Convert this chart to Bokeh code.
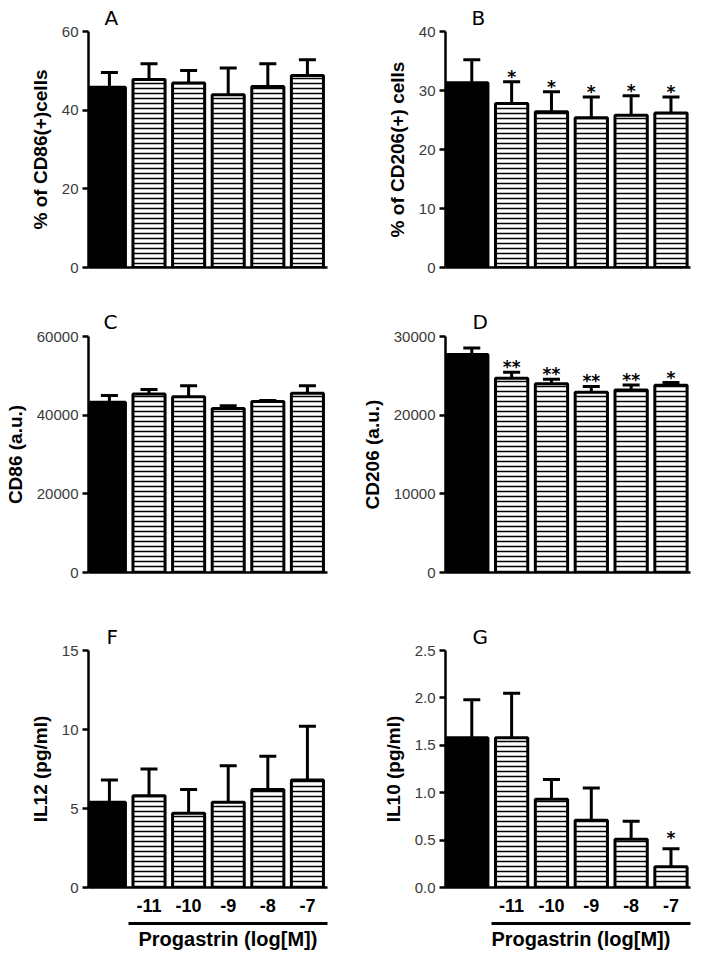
from bokeh.plotting import figure
from bokeh.models import (Range1d, FixedTicker, LinearAxis, Whisker, TeeHead,
                          ColumnDataSource, Title, NumeralTickFormatter)
from bokeh.layouts import row, column
from bokeh.embed import file_html
from bokeh.resources import INLINE
from bokeh.core.properties import value

# ---------------- data ----------------
conc_labels = ["", "-11", "-10", "-9", "-8", "-7"]
positions = [0, 1, 2, 3, 4, 5]

cd86_pct_mean = [45.8, 47.8, 46.9, 43.9, 46.0, 48.8]
cd86_pct_sem = [3.8, 4.0, 3.2, 6.8, 5.8, 4.0]
cd86_pct_sig = ["", "", "", "", "", ""]
cd86_pct_ticks = [0, 20, 40, 60]

cd206_pct_mean = [31.3, 27.8, 26.4, 25.4, 25.8, 26.2]
cd206_pct_sem = [3.9, 3.7, 3.4, 3.5, 3.3, 2.7]
cd206_pct_sig = ["", "*", "*", "*", "*", "*"]
cd206_pct_ticks = [0, 10, 20, 30, 40]

cd86_mfi_mean = [43300, 45400, 44700, 41700, 43500, 45600]
cd86_mfi_sem = [1700, 1100, 2800, 700, 200, 1900]
cd86_mfi_sig = ["", "", "", "", "", ""]
cd86_mfi_ticks = [0, 20000, 40000, 60000]

cd206_mfi_mean = [27700, 24700, 24000, 22900, 23200, 23800]
cd206_mfi_sem = [850, 750, 550, 750, 650, 350]
cd206_mfi_sig = ["", "**", "**", "**", "**", "*"]
cd206_mfi_ticks = [0, 10000, 20000, 30000]

il12_mean = [5.4, 5.8, 4.7, 5.4, 6.2, 6.8]
il12_sem = [1.4, 1.7, 1.5, 2.3, 2.1, 3.4]
il12_sig = ["", "", "", "", "", ""]
il12_ticks = [0, 5, 10, 15]

il10_mean = [1.58, 1.58, 0.93, 0.71, 0.51, 0.22]
il10_sem = [0.40, 0.47, 0.21, 0.34, 0.19, 0.19]
il10_sig = ["", "", "", "", "", "*"]
il10_ticks = [0.0, 0.5, 1.0, 1.5, 2.0, 2.5]

x_title = "Progastrin (log[M])"

BAR_W = 0.81
PAGE = 8  # page margin emulated inside the layout


def panel(letter, ylabel, mean, sem, sig, ticks, fmt, side, bottom_row,
          top_b, frame_h, bot_b, letter_off, letter_standoff, star_dy, title_off=50):
    if side == "left":
        xr = Range1d(-0.528, 5.507)
        fw, mbl, mbr = 239, 80 + PAGE, 23
    else:
        xr = Range1d(-0.66, 5.49)
        fw, mbl, mbr = 245, 95, 3
    ymax = ticks[-1]
    p = figure(x_range=xr, y_range=Range1d(ticks[0], ymax),
               frame_width=fw, frame_height=frame_h,
               min_border_left=mbl, min_border_right=mbr,
               min_border_top=top_b, min_border_bottom=bot_b,
               output_backend="svg", toolbar_location=None, tools="")
    p.xgrid.visible = False
    p.ygrid.visible = False
    p.outline_line_color = None

    # panel letter
    p.title.text = letter
    p.title.align = "left"
    p.title.offset = letter_off
    p.title.standoff = letter_standoff
    p.title.text_font = "DejaVu Sans"
    p.title.text_font_size = "20px"
    p.title.text_font_style = "normal"
    p.title.text_color = "black"

    # y axis
    yax = p.yaxis[0]
    yax.ticker = FixedTicker(ticks=ticks)
    if fmt:
        yax.formatter = NumeralTickFormatter(format=fmt)
    yax.axis_label = ylabel
    yax.axis_label_text_font = "Liberation Sans"
    yax.axis_label_text_font_size = "19px"
    yax.axis_label_text_font_style = "bold"
    yax.axis_label_text_color = "black"
    yax.axis_label_standoff = 8
    yax.major_label_text_font = "Liberation Sans"
    yax.major_label_text_font_size = "15px"
    yax.major_label_text_color = "#3a3a3a"
    yax.major_label_standoff = 4
    yax.major_tick_out = 6
    yax.major_tick_in = 0
    yax.major_tick_line_width = 2.5
    yax.minor_tick_line_color = None
    yax.axis_line_width = 2.5

    # x axis
    xax = p.xaxis[0]
    xax.axis_line_width = 2.5
    xax.major_tick_line_color = None
    xax.minor_tick_line_color = None
    xax.major_tick_out = 0
    xax.major_tick_in = 0
    if bottom_row:
        xax.ticker = FixedTicker(ticks=positions[1:])
        xax.major_label_overrides = {pos: lab for pos, lab in zip(positions, conc_labels) if lab}
        xax.major_label_text_font = "Liberation Sans"
        xax.major_label_text_font_size = "18px"
        xax.major_label_text_font_style = "bold"
        xax.major_label_text_color = "black"
        xax.major_label_standoff = 11
        xax.axis_label = "\u00a0"
        xax.axis_label_text_font_size = "6px"
        xax.axis_label_standoff = 0
        line_ax = LinearAxis(bounds=(0.49, 5.6), ticker=FixedTicker(ticks=[]),
                             major_tick_out=0, major_tick_in=0,
                             major_label_text_font_size="0px",
                             minor_tick_line_color=None, axis_line_width=3)
        p.add_layout(line_ax, "below")
        p.add_layout(Title(text=x_title, align="left", offset=title_off,
                           text_font="Liberation Sans", text_font_size="20px",
                           text_font_style="bold", text_color="black",
                           standoff=5), "below")
    else:
        xax.ticker = FixedTicker(ticks=[])
        xax.major_label_text_font_size = "0px"

    # bars
    src = ColumnDataSource(dict(x=positions[1:], top=mean[1:]))
    p.vbar(x="x", top="top", bottom=0, width=BAR_W, source=src,
           fill_color="white", line_color="black", line_width=3,
           hatch_pattern="horizontal_line", hatch_scale=5, hatch_weight=1.5,
           hatch_color="black")
    p.quad(left=[xr.start], right=[positions[0] + BAR_W / 2], bottom=[0], top=[mean[0]],
           fill_color="black", line_color="black", line_width=3)

    upper = [m + s for m, s in zip(mean, sem)]
    wsrc = ColumnDataSource(dict(x=positions, lower=mean, upper=upper, star=sig))
    w = Whisker(source=wsrc, base="x", lower="lower", upper="upper", dimension="height",
                line_width=3, line_color="black",
                upper_head=TeeHead(size=17, line_width=3, line_color="black"),
                lower_head=None)
    p.add_layout(w)

    p.text(x="x", y="upper", text="star", source=wsrc, text_align="center",
           text_baseline="alphabetic", text_font=value("DejaVu Sans"),
           text_font_style="bold", text_font_size="17px", text_color="black",
           y_offset=star_dy)
    return p


pA = panel("A", "% of CD86(+)cells", cd86_pct_mean, cd86_pct_sem, cd86_pct_sig,
           cd86_pct_ticks, None, "left", False, 23 + PAGE, 236, 31, 16, 3, 0)
pB = panel("B", "% of CD206(+) cells", cd206_pct_mean, cd206_pct_sem, cd206_pct_sig,
           cd206_pct_ticks, None, "right", False, 23 + PAGE, 236, 31, 26, 3, -4.5)
pC = panel("C", "CD86 (a.u.)", cd86_mfi_mean, cd86_mfi_sem, cd86_mfi_sig,
           cd86_mfi_ticks, None, "left", False, 38, 236, 36, 15, 6, 0)
pD = panel("D", "CD206 (a.u.)", cd206_mfi_mean, cd206_mfi_sem, cd206_mfi_sig,
           cd206_mfi_ticks, None, "right", False, 38, 236, 36, 27, 6, -5)
pF = panel("F", "IL12 (pg/ml)", il12_mean, il12_sem, il12_sig,
           il12_ticks, None, "left", True, 42, 237, 63, 18, 3, 0, title_off=50)
pG = panel("G", "IL10 (pg/ml)", il10_mean, il10_sem, il10_sig,
           il10_ticks, "0.0", "right", True, 42, 237, 63, 27, 3, -11, title_off=46)

layout = column(row(pA, pB), row(pC, pD), row(pF, pG))

open("out.html", "w").write(file_html(layout, INLINE))
